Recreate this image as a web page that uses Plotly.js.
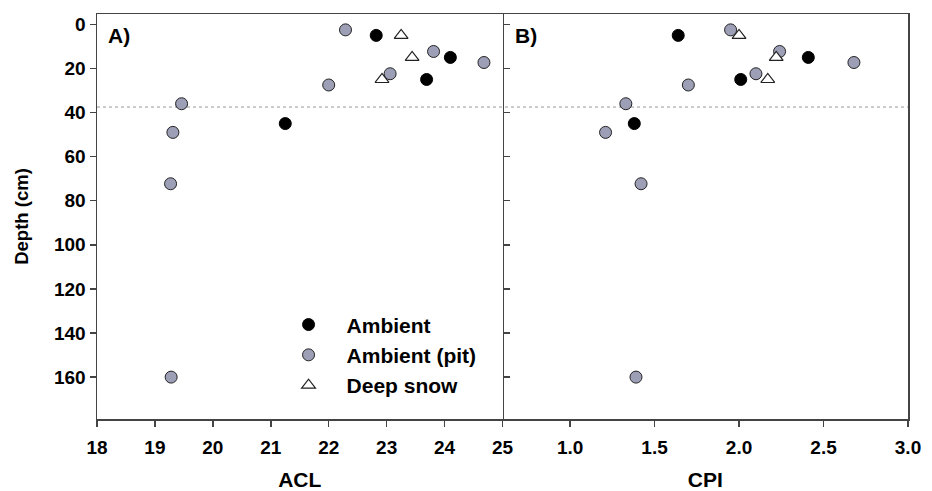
<!DOCTYPE html>
<html>
<head>
<meta charset="utf-8">
<script src="https://cdn.plot.ly/plotly-3.0.1.min.js"></script>
<style>
html,body{margin:0;padding:0;background:#fff;}
#chart{width:932px;height:491px;}
</style>
</head>
<body>
<div id="chart"></div>
<script>
// ---- data ----
const seriesNames = ["Ambient", "Ambient (pit)", "Deep snow"];

const depthAmbient = [5, 15, 25, 45];
const aclAmbient   = [22.82, 24.10, 23.69, 21.25];
const cpiAmbient   = [1.64, 2.41, 2.01, 1.38];

const depthPit = [2.5, 12.3, 17.3, 22.4, 27.5, 36, 49, 72.3, 160];
const aclPit   = [22.29, 23.81, 24.68, 23.06, 22.00, 19.46, 19.31, 19.27, 19.28];
const cpiPit   = [1.95, 2.24, 2.68, 2.10, 1.70, 1.33, 1.21, 1.42, 1.39];

const depthDeep = [5, 15, 25];
const aclDeep   = [23.25, 23.44, 22.92];
const cpiDeep   = [2.00, 2.22, 2.17];

const refDepth = 37.5;           // dotted reference line
const aclTicks = [18, 19, 20, 21, 22, 23, 24, 25];
const cpiTicks = [1.0, 1.5, 2.0, 2.5, 3.0];
const depthTicks = [0, 20, 40, 60, 80, 100, 120, 140, 160];
const panelLabels = ["A)", "B)"];

// ---- styles ----
const FONT = "Liberation Sans, Arial, sans-serif";
const AX = "#444";
const grayFill = "#9d9fb7";
const mk = {
  amb:  {symbol: "circle", size: 12, color: "#000", line: {color: "#000", width: 1}},
  pit:  {symbol: "circle", size: 12, color: grayFill, line: {color: "#222", width: 1}},
  deep: {symbol: "triangle-up", size: 12, color: "#fff", line: {color: "#222", width: 1.2}}
};

function tr(x, y, name, marker, xa, show) {
  return {type: "scatter", mode: "markers", x: x, y: y, name: name,
          marker: marker, xaxis: xa, yaxis: xa === "x" ? "y" : "y2",
          showlegend: show, legendgroup: name, cliponaxis: false};
}

const data = [
  tr(aclAmbient, depthAmbient, seriesNames[0], mk.amb, "x", true),
  tr(aclPit, depthPit, seriesNames[1], mk.pit, "x", true),
  tr(aclDeep, depthDeep, seriesNames[2], mk.deep, "x", true),
  tr(cpiAmbient, depthAmbient, seriesNames[0], mk.amb, "x2", false),
  tr(cpiPit, depthPit, seriesNames[1], mk.pit, "x2", false),
  tr(cpiDeep, depthDeep, seriesNames[2], mk.deep, "x2", false)
];

const tickFont = {family: FONT, size: 19, color: "#000", weight: "bold"};
const titleFont = {family: FONT, size: 21, color: "#000", weight: "bold"};

const layout = {
  width: 932, height: 491,
  margin: {l: 97, r: 24, t: 14, b: 72, pad: 0},
  paper_bgcolor: "#fff", plot_bgcolor: "#fff",
  font: {family: FONT, color: "#000"},
  showlegend: true,
  legend: {
    x: 0.214, y: 0.283, xanchor: "left", yanchor: "top",
    bgcolor: "rgba(0,0,0,0)", borderwidth: 0,
    font: {family: FONT, size: 21, color: "#000", weight: "bold"},
    itemwidth: 66, tracegroupgap: 0
  },
  xaxis: {
    domain: [0, 0.5], range: [18, 25], tickvals: aclTicks,
    ticks: "outside", ticklen: 6, tickwidth: 1.5, tickcolor: AX,
    showline: true, linecolor: AX, linewidth: 1.5, mirror: true,
    showgrid: false, zeroline: false, tickfont: tickFont, ticklabelstandoff: 5,
    title: {text: "ACL", font: titleFont, standoff: 20}
  },
  xaxis2: {
    domain: [0.5, 1], range: [0.6, 3.0], tickvals: cpiTicks, tickformat: ".1f",
    ticks: "outside", ticklen: 6, tickwidth: 1.5, tickcolor: AX,
    showline: true, linecolor: AX, linewidth: 1.5, mirror: true,
    showgrid: false, zeroline: false, tickfont: tickFont, anchor: "y2", ticklabelstandoff: 5,
    title: {text: "CPI", font: titleFont, standoff: 20}
  },
  yaxis: {
    range: [179, -4.7], tickvals: depthTicks,
    ticks: "outside", ticklen: 6, tickwidth: 1.5, tickcolor: AX,
    showline: true, linecolor: AX, linewidth: 1.5, mirror: "ticks",
    showgrid: false, zeroline: false, tickfont: tickFont,
    title: {text: "Depth (cm)", font: {family: FONT, size: 18.5, color: "#000", weight: "bold"}, standoff: 20}
  },
  yaxis2: {
    range: [179, -4.7], anchor: "x2", matches: "y", side: "right",
    showticklabels: false, ticks: "",
    showline: true, linecolor: AX, linewidth: 1.5, mirror: false,
    showgrid: false, zeroline: false
  },
  shapes: [{
    type: "line", xref: "paper", yref: "y", x0: 0, x1: 1, y0: refDepth, y1: refDepth,
    line: {color: "#999", width: 1, dash: "dot"}, layer: "below"
  }],
  annotations: [
    {text: panelLabels[0], xref: "paper", yref: "paper", x: 0.011, y: 0.947,
     xanchor: "left", yanchor: "middle", showarrow: false,
     font: {family: FONT, size: 21, color: "#000", weight: "bold"}},
    {text: panelLabels[1], xref: "paper", yref: "paper", x: 0.513, y: 0.947,
     xanchor: "left", yanchor: "middle", showarrow: false,
     font: {family: FONT, size: 21, color: "#000", weight: "bold"}}
  ]
};

Plotly.newPlot("chart", data, layout, {displayModeBar: false, staticPlot: true});
</script>
</body>
</html>
